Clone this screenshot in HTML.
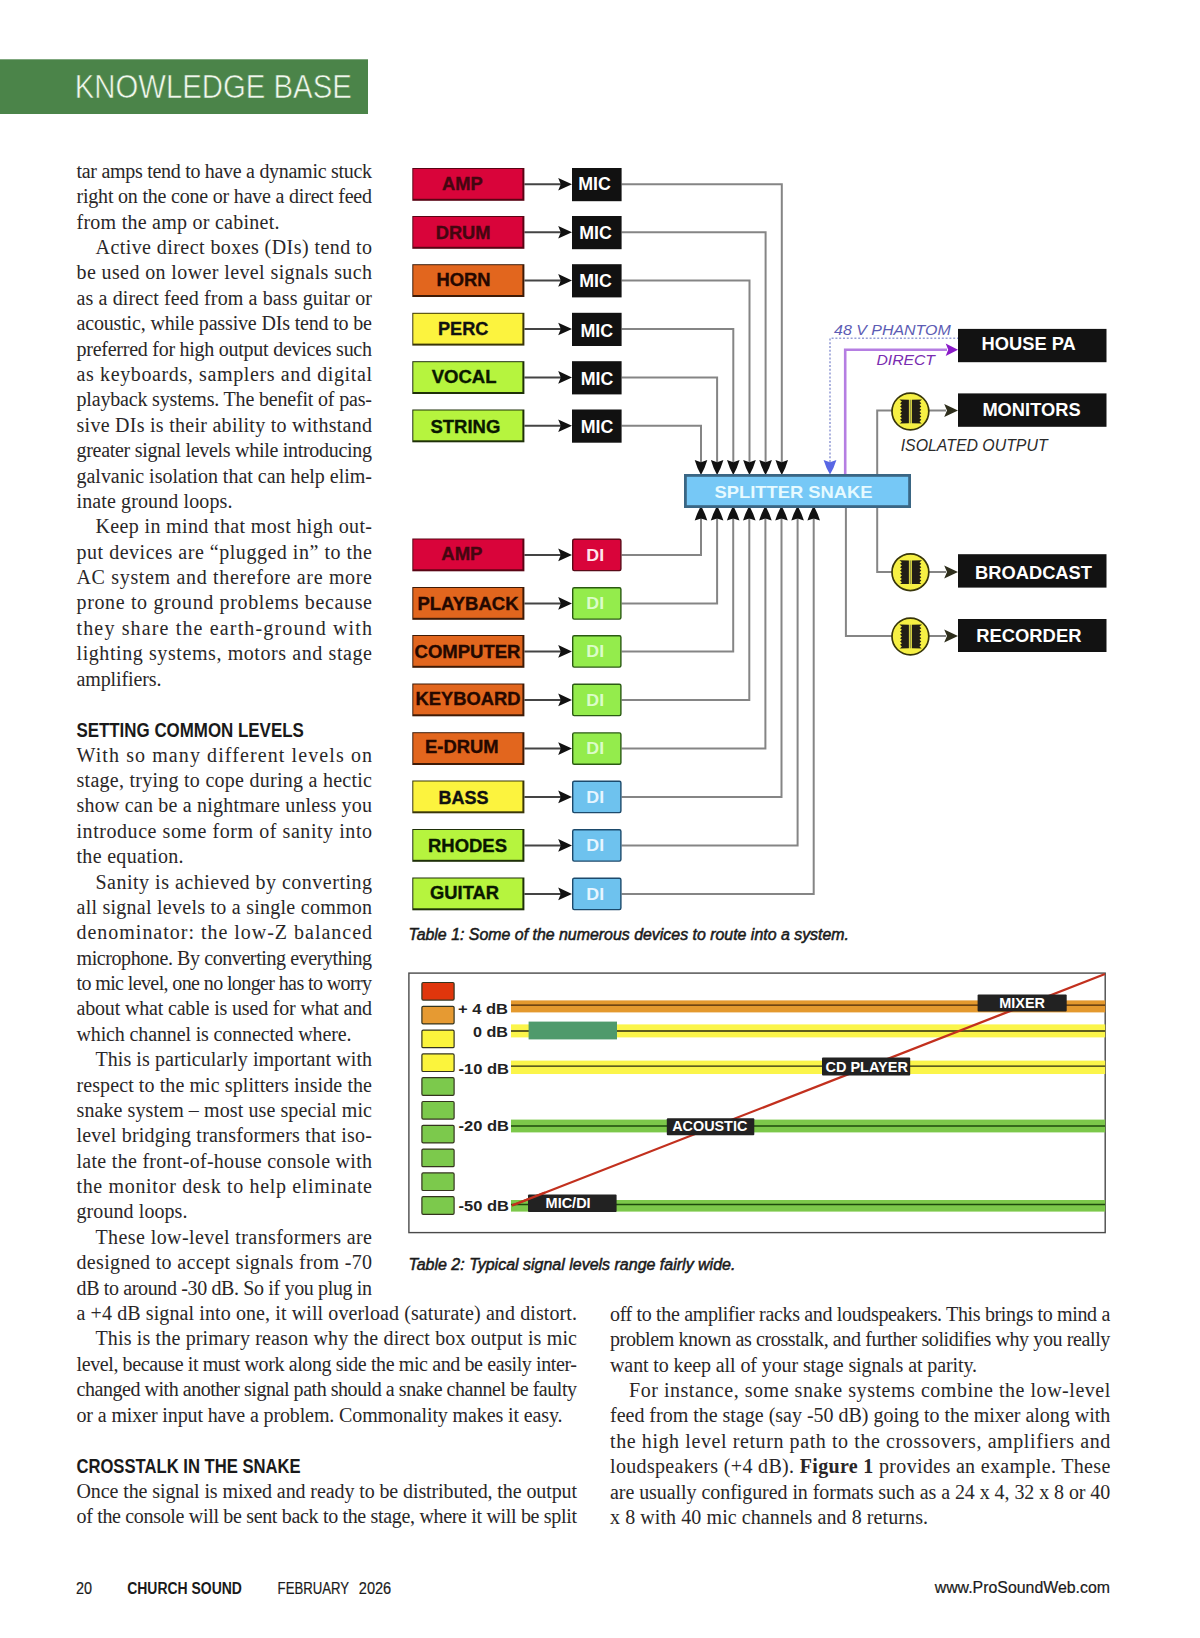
<!DOCTYPE html>
<html><head><meta charset="utf-8"><title>Knowledge Base</title>
<style>html,body{margin:0;padding:0;background:#fff;}body{width:1200px;height:1638px;overflow:hidden;}svg{display:block}text{white-space:pre}</style>
</head><body>
<svg width="1200" height="1638" viewBox="0 0 1200 1638">
<rect width="1200" height="1638" fill="#fff"/>
<rect x="0" y="59.3" width="368" height="54.7" fill="#4b8449"/><text x="74.8" y="97.9" font-family="'Liberation Sans', sans-serif" font-size="33.6" fill="#f0f8ec" textLength="277.0" lengthAdjust="spacingAndGlyphs" stroke="#4b8449" stroke-width="0.6">KNOWLEDGE BASE</text>
<g font-family="'Liberation Serif', serif" font-size="20" fill="#2a2728"><text x="76.5" y="177.9" textLength="295.5" lengthAdjust="spacing">tar amps tend to have a dynamic stuck</text><text x="76.5" y="203.3" textLength="295.5" lengthAdjust="spacing">right on the cone or have a direct feed</text><text x="76.5" y="228.7" textLength="203" lengthAdjust="spacing">from the amp or cabinet.</text><text x="95.5" y="254.0" textLength="276.5" lengthAdjust="spacing">Active direct boxes (DIs) tend to</text><text x="76.5" y="279.4" textLength="295.5" lengthAdjust="spacing">be used on lower level signals such</text><text x="76.5" y="304.8" textLength="295.5" lengthAdjust="spacing">as a direct feed from a bass guitar or</text><text x="76.5" y="330.2" textLength="295.5" lengthAdjust="spacing">acoustic, while passive DIs tend to be</text><text x="76.5" y="355.6" textLength="295.5" lengthAdjust="spacing">preferred for high output devices such</text><text x="76.5" y="380.9" textLength="295.5" lengthAdjust="spacing">as keyboards, samplers and digital</text><text x="76.5" y="406.3" textLength="295.5" lengthAdjust="spacing">playback systems. The benefit of pas-</text><text x="76.5" y="431.7" textLength="295.5" lengthAdjust="spacing">sive DIs is their ability to withstand</text><text x="76.5" y="457.1" textLength="295.5" lengthAdjust="spacing">greater signal levels while introducing</text><text x="76.5" y="482.5" textLength="295.5" lengthAdjust="spacing">galvanic isolation that can help elim-</text><text x="76.5" y="507.8" textLength="156" lengthAdjust="spacing">inate ground loops.</text><text x="95.5" y="533.2" textLength="276.5" lengthAdjust="spacing">Keep in mind that most high out-</text><text x="76.5" y="558.6" textLength="295.5" lengthAdjust="spacing">put devices are “plugged in” to the</text><text x="76.5" y="584.0" textLength="295.5" lengthAdjust="spacing">AC system and therefore are more</text><text x="76.5" y="609.4" textLength="295.5" lengthAdjust="spacing">prone to ground problems because</text><text x="76.5" y="634.7" textLength="295.5" lengthAdjust="spacing">they share the earth-ground with</text><text x="76.5" y="660.1" textLength="295.5" lengthAdjust="spacing">lighting systems, motors and stage</text><text x="76.5" y="685.5" textLength="85" lengthAdjust="spacing">amplifiers.</text><text x="76.5" y="761.6" textLength="295.5" lengthAdjust="spacing">With so many different levels on</text><text x="76.5" y="787.0" textLength="295.5" lengthAdjust="spacing">stage, trying to cope during a hectic</text><text x="76.5" y="812.4" textLength="295.5" lengthAdjust="spacing">show can be a nightmare unless you</text><text x="76.5" y="837.7" textLength="295.5" lengthAdjust="spacing">introduce some form of sanity into</text><text x="76.5" y="863.1" textLength="107" lengthAdjust="spacing">the equation.</text><text x="95.5" y="888.5" textLength="276.5" lengthAdjust="spacing">Sanity is achieved by converting</text><text x="76.5" y="913.9" textLength="295.5" lengthAdjust="spacing">all signal levels to a single common</text><text x="76.5" y="939.3" textLength="295.5" lengthAdjust="spacing">denominator: the low-Z balanced</text><text x="76.5" y="964.6" textLength="295.5" lengthAdjust="spacing">microphone. By converting everything</text><text x="76.5" y="990.0" textLength="295.5" lengthAdjust="spacing">to mic level, one no longer has to worry</text><text x="76.5" y="1015.4" textLength="295.5" lengthAdjust="spacing">about what cable is used for what and</text><text x="76.5" y="1040.8" textLength="275" lengthAdjust="spacing">which channel is connected where.</text><text x="95.5" y="1066.2" textLength="276.5" lengthAdjust="spacing">This is particularly important with</text><text x="76.5" y="1091.5" textLength="295.5" lengthAdjust="spacing">respect to the mic splitters inside the</text><text x="76.5" y="1116.9" textLength="295.5" lengthAdjust="spacing">snake system – most use special mic</text><text x="76.5" y="1142.3" textLength="295.5" lengthAdjust="spacing">level bridging transformers that iso-</text><text x="76.5" y="1167.7" textLength="295.5" lengthAdjust="spacing">late the front-of-house console with</text><text x="76.5" y="1193.1" textLength="295.5" lengthAdjust="spacing">the monitor desk to help eliminate</text><text x="76.5" y="1218.4" textLength="111" lengthAdjust="spacing">ground loops.</text><text x="95.5" y="1243.8" textLength="276.5" lengthAdjust="spacing">These low-level transformers are</text><text x="76.5" y="1269.2" textLength="295.5" lengthAdjust="spacing">designed to accept signals from -70</text><text x="76.5" y="1294.6" textLength="295.5" lengthAdjust="spacing">dB to around -30 dB. So if you plug in</text><text x="76.5" y="1320.0" textLength="500.5" lengthAdjust="spacing">a +4 dB signal into one, it will overload (saturate) and distort.</text><text x="95.5" y="1345.3" textLength="481.5" lengthAdjust="spacing">This is the primary reason why the direct box output is mic</text><text x="76.5" y="1370.7" textLength="500.5" lengthAdjust="spacing">level, because it must work along side the mic and be easily inter-</text><text x="76.5" y="1396.1" textLength="500.5" lengthAdjust="spacing">changed with another signal path should a snake channel be faulty</text><text x="76.5" y="1421.5" textLength="486" lengthAdjust="spacing">or a mixer input have a problem. Commonality makes it easy.</text><text x="76.5" y="1497.6" textLength="500.5" lengthAdjust="spacing">Once the signal is mixed and ready to be distributed, the output</text><text x="76.5" y="1523.0" textLength="500.5" lengthAdjust="spacing">of the console will be sent back to the stage, where it will be split</text><text x="610.0" y="1320.8" textLength="500.3" lengthAdjust="spacing">off to the amplifier racks and loudspeakers. This brings to mind a</text><text x="610.0" y="1346.2" textLength="500.3" lengthAdjust="spacing">problem known as crosstalk, and further solidifies why you really</text><text x="610.0" y="1371.6" textLength="367" lengthAdjust="spacing">want to keep all of your stage signals at parity.</text><text x="629.0" y="1396.9" textLength="481.3" lengthAdjust="spacing">For instance, some snake systems combine the low-level</text><text x="610.0" y="1422.3" textLength="500.3" lengthAdjust="spacing">feed from the stage (say -50 dB) going to the mixer along with</text><text x="610.0" y="1447.7" textLength="500.3" lengthAdjust="spacing">the high level return path to the crossovers, amplifiers and</text><text x="610.0" y="1473.1" textLength="500.3" lengthAdjust="spacing">loudspeakers (+4 dB). <tspan font-weight="bold">Figure 1</tspan> provides an example. These</text><text x="610.0" y="1498.5" textLength="500.3" lengthAdjust="spacing">are usually configured in formats such as a 24 x 4, 32 x 8 or 40</text><text x="610.0" y="1523.8" textLength="318" lengthAdjust="spacing">x 8 with 40 mic channels and 8 returns.</text></g>
<text x="76.4" y="736.6" font-family="'Liberation Sans', sans-serif" font-size="21" font-weight="bold" fill="#1a1a1a" textLength="227.4" lengthAdjust="spacingAndGlyphs">SETTING COMMON LEVELS</text><text x="76.4" y="1472.6" font-family="'Liberation Sans', sans-serif" font-size="21" font-weight="bold" fill="#1a1a1a" textLength="224.3" lengthAdjust="spacingAndGlyphs">CROSSTALK IN THE SNAKE</text>
<text x="408.4" y="940.3" font-family="'Liberation Sans', sans-serif" font-size="17" font-style="italic" fill="#1a1a1a" textLength="440.6" lengthAdjust="spacingAndGlyphs" stroke="#1a1a1a" stroke-width="0.55">Table 1: Some of the numerous devices to route into a system.</text><text x="408.4" y="1269.5" font-family="'Liberation Sans', sans-serif" font-size="17" font-style="italic" fill="#1a1a1a" textLength="327.0" lengthAdjust="spacingAndGlyphs" stroke="#1a1a1a" stroke-width="0.55">Table 2: Typical signal levels range fairly wide.</text>
<text x="76.0" y="1593.6" font-family="'Liberation Sans', sans-serif" font-size="16" fill="#1a1a1a" textLength="16.0" lengthAdjust="spacingAndGlyphs" stroke="#1a1a1a" stroke-width="0.2">20</text><text x="127.2" y="1593.6" font-family="'Liberation Sans', sans-serif" font-size="16" font-weight="bold" fill="#1a1a1a" textLength="114.7" lengthAdjust="spacingAndGlyphs">CHURCH SOUND</text><text x="277.6" y="1593.6" font-family="'Liberation Sans', sans-serif" font-size="16" fill="#1a1a1a" textLength="71.5" lengthAdjust="spacingAndGlyphs" stroke="#1a1a1a" stroke-width="0.2">FEBRUARY</text><text x="358.8" y="1593.6" font-family="'Liberation Sans', sans-serif" font-size="16" fill="#1a1a1a" textLength="32.4" lengthAdjust="spacingAndGlyphs" stroke="#1a1a1a" stroke-width="0.2">2026</text><text x="934.7" y="1593.4" font-family="'Liberation Sans', sans-serif" font-size="16" fill="#1a1a1a" textLength="175.3" lengthAdjust="spacingAndGlyphs" stroke="#1a1a1a" stroke-width="0.2">www.ProSoundWeb.com</text>
<path d="M621.6,184.2 H781.8 V462" fill="none" stroke="#858585" stroke-width="2"/><path d="M621.6,232.2 H765.6 V462" fill="none" stroke="#858585" stroke-width="2"/><path d="M621.6,280.4 H749.5 V462" fill="none" stroke="#858585" stroke-width="2"/><path d="M621.6,329.0 H733.3 V462" fill="none" stroke="#858585" stroke-width="2"/><path d="M621.6,377.4 H717.1 V462" fill="none" stroke="#858585" stroke-width="2"/><path d="M621.6,425.7 H701.0 V462" fill="none" stroke="#858585" stroke-width="2"/><path d="M621.6,554.9 H701.0 V518" fill="none" stroke="#858585" stroke-width="2"/><path d="M621.6,603.4 H717.1 V518" fill="none" stroke="#858585" stroke-width="2"/><path d="M621.6,651.4 H733.2 V518" fill="none" stroke="#858585" stroke-width="2"/><path d="M621.6,699.9 H749.3 V518" fill="none" stroke="#858585" stroke-width="2"/><path d="M621.6,748.6 H765.4 V518" fill="none" stroke="#858585" stroke-width="2"/><path d="M621.6,796.9 H781.5 V518" fill="none" stroke="#858585" stroke-width="2"/><path d="M621.6,845.4 H797.6 V518" fill="none" stroke="#858585" stroke-width="2"/><path d="M621.6,893.9 H813.7 V518" fill="none" stroke="#858585" stroke-width="2"/><path d="M877.2,474 V410.5 H892" fill="none" stroke="#858585" stroke-width="2"/><path d="M877.2,506 V572 H892" fill="none" stroke="#858585" stroke-width="2"/><path d="M845.9,506 V636 H892" fill="none" stroke="#858585" stroke-width="2"/><path d="M929,410.5 H946" stroke="#858585" stroke-width="2"/><path d="M958.0,410.5 L944.2,404.0 L947.0,410.5 L944.2,417.0 Z" fill="#2e2e1c"/><path d="M929,572 H946" stroke="#858585" stroke-width="2"/><path d="M958.0,572.0 L944.2,565.5 L947.0,572.0 L944.2,578.5 Z" fill="#2e2e1c"/><path d="M929,636 H946" stroke="#858585" stroke-width="2"/><path d="M958.0,636.0 L944.2,629.5 L947.0,636.0 L944.2,642.5 Z" fill="#2e2e1c"/><path d="M830,462 V338.2 H958" fill="none" stroke="#98a0d8" stroke-width="1.6" stroke-dasharray="2,1.8"/><path d="M830.0,474.5 Q826.0,468.0 823.6,460.0 L830.0,462.2 L836.4,460.0 Q834.0,468.0 830.0,474.5 Z" fill="#5866e4"/><path d="M845.2,474 V349.7 H947" fill="none" stroke="#b57ee2" stroke-width="2.6"/><path d="M958.0,349.7 L945.7,343.5 L948.2,349.7 L945.7,355.9 Z" fill="#8a1ac8"/><text x="834.0" y="334.5" font-family="'Liberation Sans', sans-serif" font-size="15.5" font-style="italic" fill="#5c5cb4" textLength="116.8" lengthAdjust="spacingAndGlyphs">48 V PHANTOM</text><text x="876.4" y="365.0" font-family="'Liberation Sans', sans-serif" font-size="15.5" font-style="italic" fill="#7a2cb0" textLength="58.6" lengthAdjust="spacingAndGlyphs">DIRECT</text><text x="900.7" y="450.8" font-family="'Liberation Sans', sans-serif" font-size="16" font-style="italic" fill="#2a2a2a" textLength="146.9" lengthAdjust="spacingAndGlyphs">ISOLATED OUTPUT</text><path d="M524.4,184.2 H562" stroke="#444" stroke-width="2"/><path d="M572.0,184.2 L558.2,177.9 L560.8,184.2 L558.2,190.5 Z" fill="#111"/><rect x="412.3" y="168.0" width="112.1" height="32.8" fill="#5a0414"/><rect x="413.3" y="169.0" width="109.1" height="29.8" fill="#d9043a"/><text x="442.0" y="190.0" font-family="'Liberation Sans', sans-serif" font-size="17.6" font-weight="bold" fill="#440610" textLength="40.7" lengthAdjust="spacingAndGlyphs" stroke="#440610" stroke-width="0.35">AMP</text><rect x="572" y="168" width="49.6" height="33.2" fill="#111"/><text x="578.2" y="189.5" font-family="'Liberation Sans', sans-serif" font-size="18" font-weight="bold" fill="#fff" textLength="32.6" lengthAdjust="spacingAndGlyphs">MIC</text><path d="M524.4,232.2 H562" stroke="#444" stroke-width="2"/><path d="M572.0,232.2 L558.2,225.9 L560.8,232.2 L558.2,238.5 Z" fill="#111"/><rect x="412.3" y="216.0" width="112.1" height="32.8" fill="#5a0414"/><rect x="413.3" y="217.0" width="109.1" height="29.8" fill="#d9043a"/><text x="435.7" y="238.5" font-family="'Liberation Sans', sans-serif" font-size="17.6" font-weight="bold" fill="#440610" textLength="54.8" lengthAdjust="spacingAndGlyphs" stroke="#440610" stroke-width="0.35">DRUM</text><rect x="572" y="216" width="49.6" height="33.2" fill="#111"/><text x="579.3" y="239.1" font-family="'Liberation Sans', sans-serif" font-size="18" font-weight="bold" fill="#fff" textLength="32.6" lengthAdjust="spacingAndGlyphs">MIC</text><path d="M524.4,280.4 H562" stroke="#444" stroke-width="2"/><path d="M572.0,280.4 L558.2,274.1 L560.8,280.4 L558.2,286.7 Z" fill="#111"/><rect x="412.3" y="264.2" width="112.1" height="32.8" fill="#3e1a06"/><rect x="413.3" y="265.2" width="109.1" height="29.8" fill="#e2661e"/><text x="436.5" y="286.2" font-family="'Liberation Sans', sans-serif" font-size="17.6" font-weight="bold" fill="#240800" textLength="54.0" lengthAdjust="spacingAndGlyphs" stroke="#240800" stroke-width="0.35">HORN</text><rect x="572" y="264.2" width="49.6" height="33.2" fill="#111"/><text x="579.3" y="286.5" font-family="'Liberation Sans', sans-serif" font-size="18" font-weight="bold" fill="#fff" textLength="32.6" lengthAdjust="spacingAndGlyphs">MIC</text><path d="M524.4,329.0 H562" stroke="#444" stroke-width="2"/><path d="M572.0,329.0 L558.2,322.7 L560.8,329.0 L558.2,335.3 Z" fill="#111"/><rect x="412.3" y="312.8" width="112.1" height="32.8" fill="#3a3608"/><rect x="413.3" y="313.8" width="109.1" height="29.8" fill="#fcf33e"/><text x="438.0" y="334.5" font-family="'Liberation Sans', sans-serif" font-size="17.6" font-weight="bold" fill="#111" textLength="50.3" lengthAdjust="spacingAndGlyphs" stroke="#111" stroke-width="0.35">PERC</text><rect x="572" y="312.8" width="49.6" height="33.2" fill="#111"/><text x="580.5" y="337.4" font-family="'Liberation Sans', sans-serif" font-size="18" font-weight="bold" fill="#fff" textLength="32.6" lengthAdjust="spacingAndGlyphs">MIC</text><path d="M524.4,377.4 H562" stroke="#444" stroke-width="2"/><path d="M572.0,377.4 L558.2,371.1 L560.8,377.4 L558.2,383.7 Z" fill="#111"/><rect x="412.3" y="361.2" width="112.1" height="32.8" fill="#1e3008"/><rect x="413.3" y="362.2" width="109.1" height="29.8" fill="#b6f43e"/><text x="431.7" y="383.0" font-family="'Liberation Sans', sans-serif" font-size="17.6" font-weight="bold" fill="#0a1800" textLength="64.8" lengthAdjust="spacingAndGlyphs" stroke="#0a1800" stroke-width="0.35">VOCAL</text><rect x="572" y="361.2" width="49.6" height="33.2" fill="#111"/><text x="580.7" y="384.7" font-family="'Liberation Sans', sans-serif" font-size="18" font-weight="bold" fill="#fff" textLength="32.6" lengthAdjust="spacingAndGlyphs">MIC</text><path d="M524.4,425.7 H562" stroke="#444" stroke-width="2"/><path d="M572.0,425.7 L558.2,419.4 L560.8,425.7 L558.2,432.0 Z" fill="#111"/><rect x="412.3" y="409.5" width="112.1" height="32.8" fill="#1e3008"/><rect x="413.3" y="410.5" width="109.1" height="29.8" fill="#b6f43e"/><text x="430.5" y="433.0" font-family="'Liberation Sans', sans-serif" font-size="17.6" font-weight="bold" fill="#0a1800" textLength="69.8" lengthAdjust="spacingAndGlyphs" stroke="#0a1800" stroke-width="0.35">STRING</text><rect x="572" y="409.5" width="49.6" height="33.2" fill="#111"/><text x="580.7" y="432.8" font-family="'Liberation Sans', sans-serif" font-size="18" font-weight="bold" fill="#fff" textLength="32.6" lengthAdjust="spacingAndGlyphs">MIC</text><path d="M524.4,554.9 H562" stroke="#444" stroke-width="2"/><path d="M572.0,554.9 L558.2,548.6 L560.8,554.9 L558.2,561.2 Z" fill="#111"/><rect x="412.3" y="538.5" width="112.1" height="32.8" fill="#5a0414"/><rect x="413.3" y="539.5" width="109.1" height="29.8" fill="#d9043a"/><text x="441.3" y="559.8" font-family="'Liberation Sans', sans-serif" font-size="17.6" font-weight="bold" fill="#440610" textLength="41.2" lengthAdjust="spacingAndGlyphs" stroke="#440610" stroke-width="0.35">AMP</text><rect x="572.7" y="539.2" width="48.2" height="31.4" rx="1.5" fill="#d9043a" stroke="#5a0a18" stroke-width="1.4"/><text x="586.3" y="560.5" font-family="'Liberation Sans', sans-serif" font-size="17.2" font-weight="bold" fill="#ffe4ec" textLength="17.8" lengthAdjust="spacingAndGlyphs">DI</text><path d="M524.4,603.4 H562" stroke="#444" stroke-width="2"/><path d="M572.0,603.4 L558.2,597.1 L560.8,603.4 L558.2,609.7 Z" fill="#111"/><rect x="412.3" y="587.0" width="112.1" height="32.8" fill="#3e1a06"/><rect x="413.3" y="588.0" width="109.1" height="29.8" fill="#e2661e"/><text x="417.5" y="609.5" font-family="'Liberation Sans', sans-serif" font-size="17.6" font-weight="bold" fill="#240800" textLength="101.0" lengthAdjust="spacingAndGlyphs" stroke="#240800" stroke-width="0.35">PLAYBACK</text><rect x="572.7" y="587.7" width="48.2" height="31.4" rx="1.5" fill="#94ec4c" stroke="#2a5a12" stroke-width="1.4"/><text x="586.3" y="609.0" font-family="'Liberation Sans', sans-serif" font-size="17.2" font-weight="bold" fill="#dcfcc8" textLength="17.8" lengthAdjust="spacingAndGlyphs">DI</text><path d="M524.4,651.4 H562" stroke="#444" stroke-width="2"/><path d="M572.0,651.4 L558.2,645.1 L560.8,651.4 L558.2,657.7 Z" fill="#111"/><rect x="412.3" y="635.0" width="112.1" height="32.8" fill="#3e1a06"/><rect x="413.3" y="636.0" width="109.1" height="29.8" fill="#e2661e"/><text x="414.5" y="657.5" font-family="'Liberation Sans', sans-serif" font-size="17.6" font-weight="bold" fill="#240800" textLength="106.0" lengthAdjust="spacingAndGlyphs" stroke="#240800" stroke-width="0.35">COMPUTER</text><rect x="572.7" y="635.7" width="48.2" height="31.4" rx="1.5" fill="#94ec4c" stroke="#2a5a12" stroke-width="1.4"/><text x="586.3" y="657.0" font-family="'Liberation Sans', sans-serif" font-size="17.2" font-weight="bold" fill="#dcfcc8" textLength="17.8" lengthAdjust="spacingAndGlyphs">DI</text><path d="M524.4,699.9 H562" stroke="#444" stroke-width="2"/><path d="M572.0,699.9 L558.2,693.6 L560.8,699.9 L558.2,706.2 Z" fill="#111"/><rect x="412.3" y="683.5" width="112.1" height="32.8" fill="#3e1a06"/><rect x="413.3" y="684.5" width="109.1" height="29.8" fill="#e2661e"/><text x="415.5" y="704.8" font-family="'Liberation Sans', sans-serif" font-size="17.6" font-weight="bold" fill="#240800" textLength="105.0" lengthAdjust="spacingAndGlyphs" stroke="#240800" stroke-width="0.35">KEYBOARD</text><rect x="572.7" y="684.2" width="48.2" height="31.4" rx="1.5" fill="#94ec4c" stroke="#2a5a12" stroke-width="1.4"/><text x="586.3" y="705.5" font-family="'Liberation Sans', sans-serif" font-size="17.2" font-weight="bold" fill="#dcfcc8" textLength="17.8" lengthAdjust="spacingAndGlyphs">DI</text><path d="M524.4,748.6 H562" stroke="#444" stroke-width="2"/><path d="M572.0,748.6 L558.2,742.3 L560.8,748.6 L558.2,754.9 Z" fill="#111"/><rect x="412.3" y="732.2" width="112.1" height="32.8" fill="#3e1a06"/><rect x="413.3" y="733.2" width="109.1" height="29.8" fill="#e2661e"/><text x="425.0" y="753.0" font-family="'Liberation Sans', sans-serif" font-size="17.6" font-weight="bold" fill="#240800" textLength="73.5" lengthAdjust="spacingAndGlyphs" stroke="#240800" stroke-width="0.35">E-DRUM</text><rect x="572.7" y="732.9" width="48.2" height="31.4" rx="1.5" fill="#94ec4c" stroke="#2a5a12" stroke-width="1.4"/><text x="586.3" y="754.2" font-family="'Liberation Sans', sans-serif" font-size="17.2" font-weight="bold" fill="#dcfcc8" textLength="17.8" lengthAdjust="spacingAndGlyphs">DI</text><path d="M524.4,796.9 H562" stroke="#444" stroke-width="2"/><path d="M572.0,796.9 L558.2,790.6 L560.8,796.9 L558.2,803.2 Z" fill="#111"/><rect x="412.3" y="780.5" width="112.1" height="32.8" fill="#3a3608"/><rect x="413.3" y="781.5" width="109.1" height="29.8" fill="#fcf33e"/><text x="438.5" y="803.5" font-family="'Liberation Sans', sans-serif" font-size="17.6" font-weight="bold" fill="#111" textLength="50.0" lengthAdjust="spacingAndGlyphs" stroke="#111" stroke-width="0.35">BASS</text><rect x="572.7" y="781.2" width="48.2" height="31.4" rx="1.5" fill="#6ec2ee" stroke="#1c4a6c" stroke-width="1.4"/><text x="586.3" y="802.5" font-family="'Liberation Sans', sans-serif" font-size="17.2" font-weight="bold" fill="#e6f5ff" textLength="17.8" lengthAdjust="spacingAndGlyphs">DI</text><path d="M524.4,845.4 H562" stroke="#444" stroke-width="2"/><path d="M572.0,845.4 L558.2,839.1 L560.8,845.4 L558.2,851.7 Z" fill="#111"/><rect x="412.3" y="829.0" width="112.1" height="32.8" fill="#1e3008"/><rect x="413.3" y="830.0" width="109.1" height="29.8" fill="#b6f43e"/><text x="428.0" y="852.0" font-family="'Liberation Sans', sans-serif" font-size="17.6" font-weight="bold" fill="#0a1800" textLength="79.0" lengthAdjust="spacingAndGlyphs" stroke="#0a1800" stroke-width="0.35">RHODES</text><rect x="572.7" y="829.7" width="48.2" height="31.4" rx="1.5" fill="#6ec2ee" stroke="#1c4a6c" stroke-width="1.4"/><text x="586.3" y="851.0" font-family="'Liberation Sans', sans-serif" font-size="17.2" font-weight="bold" fill="#e6f5ff" textLength="17.8" lengthAdjust="spacingAndGlyphs">DI</text><path d="M524.4,893.9 H562" stroke="#444" stroke-width="2"/><path d="M572.0,893.9 L558.2,887.6 L560.8,893.9 L558.2,900.2 Z" fill="#111"/><rect x="412.3" y="877.5" width="112.1" height="32.8" fill="#1e3008"/><rect x="413.3" y="878.5" width="109.1" height="29.8" fill="#b6f43e"/><text x="430.0" y="899.0" font-family="'Liberation Sans', sans-serif" font-size="17.6" font-weight="bold" fill="#0a1800" textLength="69.0" lengthAdjust="spacingAndGlyphs" stroke="#0a1800" stroke-width="0.35">GUITAR</text><rect x="572.7" y="878.2" width="48.2" height="31.4" rx="1.5" fill="#6ec2ee" stroke="#1c4a6c" stroke-width="1.4"/><text x="586.3" y="899.5" font-family="'Liberation Sans', sans-serif" font-size="17.2" font-weight="bold" fill="#e6f5ff" textLength="17.8" lengthAdjust="spacingAndGlyphs">DI</text><path d="M701.0,475.0 Q697.1,468.2 694.7,460.0 L701.0,462.2 L707.3,460.0 Q704.9,468.2 701.0,475.0 Z" fill="#111"/><path d="M717.1,475.0 Q713.2,468.2 710.9,460.0 L717.1,462.2 L723.4,460.0 Q721.1,468.2 717.1,475.0 Z" fill="#111"/><path d="M733.3,475.0 Q729.4,468.2 727.0,460.0 L733.3,462.2 L739.6,460.0 Q737.2,468.2 733.3,475.0 Z" fill="#111"/><path d="M749.5,475.0 Q745.5,468.2 743.2,460.0 L749.5,462.2 L755.8,460.0 Q753.4,468.2 749.5,475.0 Z" fill="#111"/><path d="M765.6,475.0 Q761.7,468.2 759.3,460.0 L765.6,462.2 L771.9,460.0 Q769.5,468.2 765.6,475.0 Z" fill="#111"/><path d="M781.8,475.0 Q777.8,468.2 775.5,460.0 L781.8,462.2 L788.0,460.0 Q785.7,468.2 781.8,475.0 Z" fill="#111"/><path d="M701.0,506.0 Q697.1,512.6 694.7,520.6 L701.0,518.4 L707.3,520.6 Q704.9,512.6 701.0,506.0 Z" fill="#111"/><path d="M717.1,506.0 Q713.2,512.6 710.8,520.6 L717.1,518.4 L723.4,520.6 Q721.0,512.6 717.1,506.0 Z" fill="#111"/><path d="M733.2,506.0 Q729.3,512.6 726.9,520.6 L733.2,518.4 L739.5,520.6 Q737.1,512.6 733.2,506.0 Z" fill="#111"/><path d="M749.3,506.0 Q745.4,512.6 743.0,520.6 L749.3,518.4 L755.6,520.6 Q753.2,512.6 749.3,506.0 Z" fill="#111"/><path d="M765.4,506.0 Q761.5,512.6 759.1,520.6 L765.4,518.4 L771.7,520.6 Q769.3,512.6 765.4,506.0 Z" fill="#111"/><path d="M781.5,506.0 Q777.6,512.6 775.2,520.6 L781.5,518.4 L787.8,520.6 Q785.4,512.6 781.5,506.0 Z" fill="#111"/><path d="M797.6,506.0 Q793.7,512.6 791.3,520.6 L797.6,518.4 L803.9,520.6 Q801.5,512.6 797.6,506.0 Z" fill="#111"/><path d="M813.7,506.0 Q809.8,512.6 807.4,520.6 L813.7,518.4 L820.0,520.6 Q817.6,512.6 813.7,506.0 Z" fill="#111"/><rect x="685.4" y="475.4" width="224.2" height="31.2" fill="#76c8f6" stroke="#3a6684" stroke-width="2.8"/><text x="714.5" y="497.8" font-family="'Liberation Sans', sans-serif" font-size="17" font-weight="bold" fill="#e6faff" textLength="158.0" lengthAdjust="spacingAndGlyphs">SPLITTER SNAKE</text><rect x="958" y="328.9" width="148.5" height="33.3" fill="#121212"/><text x="981.5" y="349.5" font-family="'Liberation Sans', sans-serif" font-size="18.5" font-weight="bold" fill="#fff" textLength="94.3" lengthAdjust="spacingAndGlyphs">HOUSE PA</text><rect x="958" y="393.4" width="148.5" height="33.4" fill="#121212"/><text x="982.4" y="416.0" font-family="'Liberation Sans', sans-serif" font-size="18.5" font-weight="bold" fill="#fff" textLength="98.2" lengthAdjust="spacingAndGlyphs">MONITORS</text><rect x="958" y="554.2" width="148.5" height="33.4" fill="#121212"/><text x="975.0" y="578.7" font-family="'Liberation Sans', sans-serif" font-size="18.5" font-weight="bold" fill="#fff" textLength="117.0" lengthAdjust="spacingAndGlyphs">BROADCAST</text><rect x="958" y="619" width="148.5" height="33.0" fill="#121212"/><text x="976.3" y="641.7" font-family="'Liberation Sans', sans-serif" font-size="18.5" font-weight="bold" fill="#fff" textLength="105.1" lengthAdjust="spacingAndGlyphs">RECORDER</text><circle cx="910.4" cy="411.5" r="18.4" fill="#f6f044" stroke="#38360a" stroke-width="1.7"/><path d="M908.90,399.80 L899.40,399.60 L901.90,401.47 L900.10,403.14 L901.90,404.81 L900.10,406.49 L901.90,408.16 L900.10,409.83 L901.90,411.50 L900.10,413.17 L901.90,414.84 L900.10,416.51 L901.90,418.19 L900.10,419.86 L901.90,421.53 L900.10,423.20 L899.40,423.40 L908.90,423.20 Z" fill="#221e16"/><path d="M911.90,399.80 L922.00,399.60 L919.50,401.47 L921.30,403.14 L919.50,404.81 L921.30,406.49 L919.50,408.16 L921.30,409.83 L919.50,411.50 L921.30,413.17 L919.50,414.84 L921.30,416.51 L919.50,418.19 L921.30,419.86 L919.50,421.53 L921.30,423.20 L922.00,423.40 L911.90,423.20 Z" fill="#221e16"/><path d="M910.4,399.7 V423.3" stroke="#9c9c44" stroke-width="1.6"/><circle cx="910.4" cy="572.2" r="18.4" fill="#f6f044" stroke="#38360a" stroke-width="1.7"/><path d="M908.90,560.50 L899.40,560.30 L901.90,562.17 L900.10,563.84 L901.90,565.51 L900.10,567.19 L901.90,568.86 L900.10,570.53 L901.90,572.20 L900.10,573.87 L901.90,575.54 L900.10,577.21 L901.90,578.89 L900.10,580.56 L901.90,582.23 L900.10,583.90 L899.40,584.10 L908.90,583.90 Z" fill="#221e16"/><path d="M911.90,560.50 L922.00,560.30 L919.50,562.17 L921.30,563.84 L919.50,565.51 L921.30,567.19 L919.50,568.86 L921.30,570.53 L919.50,572.20 L921.30,573.87 L919.50,575.54 L921.30,577.21 L919.50,578.89 L921.30,580.56 L919.50,582.23 L921.30,583.90 L922.00,584.10 L911.90,583.90 Z" fill="#221e16"/><path d="M910.4,560.4 V584.0" stroke="#9c9c44" stroke-width="1.6"/><circle cx="910.4" cy="636.5" r="18.4" fill="#f6f044" stroke="#38360a" stroke-width="1.7"/><path d="M908.90,624.80 L899.40,624.60 L901.90,626.47 L900.10,628.14 L901.90,629.81 L900.10,631.49 L901.90,633.16 L900.10,634.83 L901.90,636.50 L900.10,638.17 L901.90,639.84 L900.10,641.51 L901.90,643.19 L900.10,644.86 L901.90,646.53 L900.10,648.20 L899.40,648.40 L908.90,648.20 Z" fill="#221e16"/><path d="M911.90,624.80 L922.00,624.60 L919.50,626.47 L921.30,628.14 L919.50,629.81 L921.30,631.49 L919.50,633.16 L921.30,634.83 L919.50,636.50 L921.30,638.17 L919.50,639.84 L921.30,641.51 L919.50,643.19 L921.30,644.86 L919.50,646.53 L921.30,648.20 L922.00,648.40 L911.90,648.20 Z" fill="#221e16"/><path d="M910.4,624.7 V648.3" stroke="#9c9c44" stroke-width="1.6"/>
<rect x="408.9" y="973.1" width="696.3" height="259.5" fill="#fff" stroke="#4a4a4a" stroke-width="1.4"/><rect x="421.9" y="982.5" width="32.2" height="17.6" rx="1.3" fill="#e0360c" stroke="#34341e" stroke-width="1.2"/><rect x="421.9" y="1006.3" width="32.2" height="17.6" rx="1.3" fill="#e69a32" stroke="#34341e" stroke-width="1.2"/><rect x="421.9" y="1030.1" width="32.2" height="17.6" rx="1.3" fill="#fbf43c" stroke="#34341e" stroke-width="1.2"/><rect x="421.9" y="1053.9" width="32.2" height="17.6" rx="1.3" fill="#fbf43c" stroke="#34341e" stroke-width="1.2"/><rect x="421.9" y="1077.7" width="32.2" height="17.6" rx="1.3" fill="#7cc94c" stroke="#34341e" stroke-width="1.2"/><rect x="421.9" y="1101.5" width="32.2" height="17.6" rx="1.3" fill="#7cc94c" stroke="#34341e" stroke-width="1.2"/><rect x="421.9" y="1125.3" width="32.2" height="17.6" rx="1.3" fill="#7cc94c" stroke="#34341e" stroke-width="1.2"/><rect x="421.9" y="1149.1" width="32.2" height="17.6" rx="1.3" fill="#7cc94c" stroke="#34341e" stroke-width="1.2"/><rect x="421.9" y="1172.9" width="32.2" height="17.6" rx="1.3" fill="#7cc94c" stroke="#34341e" stroke-width="1.2"/><rect x="421.9" y="1196.7" width="32.2" height="17.6" rx="1.3" fill="#7cc94c" stroke="#34341e" stroke-width="1.2"/><rect x="511" y="1000.4" width="594.2" height="12.0" fill="#e4992e"/><path d="M511,1005.2 H1105" stroke="#4a2a08" stroke-width="1.3"/><rect x="511" y="1024.4" width="594.2" height="13.0" fill="#fbf54a"/><path d="M511,1031 H1105" stroke="#2a2a10" stroke-width="1.3"/><rect x="511" y="1060.6" width="594.2" height="13.4" fill="#fbf54a"/><path d="M511,1066.2 H1105" stroke="#2a2a10" stroke-width="1.3"/><rect x="511" y="1119.6" width="594.2" height="12.8" fill="#7cc84a"/><path d="M511,1126 H1105" stroke="#1e4a0c" stroke-width="1.3"/><rect x="511" y="1200" width="594.2" height="11.6" fill="#7cc84a"/><path d="M511,1204.5 H1105" stroke="#1e4a0c" stroke-width="1.3"/><rect x="528.6" y="1021.6" width="88.4" height="17.8" fill="#4f9a6c"/><path d="M512,1205.5 L1105,974" stroke="#c2301e" stroke-width="2.3"/><rect x="977.6" y="994.5" width="89.1" height="17.0" rx="1" fill="#222"/><text x="999.2" y="1008.4" font-family="'Liberation Sans', sans-serif" font-size="14.5" font-weight="bold" fill="#fff" textLength="45.8" lengthAdjust="spacingAndGlyphs">MIXER</text><rect x="822" y="1057.5" width="88.2" height="18.0" rx="1" fill="#222"/><text x="825.5" y="1072.0" font-family="'Liberation Sans', sans-serif" font-size="14.5" font-weight="bold" fill="#fff" textLength="82.4" lengthAdjust="spacingAndGlyphs">CD PLAYER</text><rect x="666.8" y="1118.2" width="87.5" height="17.0" rx="1" fill="#222"/><text x="672.2" y="1131.0" font-family="'Liberation Sans', sans-serif" font-size="14.5" font-weight="bold" fill="#fff" textLength="75.1" lengthAdjust="spacingAndGlyphs">ACOUSTIC</text><rect x="528" y="1194.4" width="88.6" height="17.6" rx="1" fill="#222"/><text x="545.6" y="1207.6" font-family="'Liberation Sans', sans-serif" font-size="14.5" font-weight="bold" fill="#fff" textLength="45.0" lengthAdjust="spacingAndGlyphs">MIC/DI</text><path d="M512,1205.5 L545,1192.6" stroke="#c2301e" stroke-width="2.3"/><text x="458.0" y="1013.6" font-family="'Liberation Sans', sans-serif" font-size="14.3" font-weight="bold" fill="#222" textLength="50.0" lengthAdjust="spacingAndGlyphs">+ 4 dB</text><text x="473.0" y="1037.0" font-family="'Liberation Sans', sans-serif" font-size="14.3" font-weight="bold" fill="#222" textLength="35.0" lengthAdjust="spacingAndGlyphs">0 dB</text><text x="458.6" y="1074.0" font-family="'Liberation Sans', sans-serif" font-size="14.3" font-weight="bold" fill="#222" textLength="50.4" lengthAdjust="spacingAndGlyphs">-10 dB</text><text x="458.6" y="1131.4" font-family="'Liberation Sans', sans-serif" font-size="14.3" font-weight="bold" fill="#222" textLength="50.4" lengthAdjust="spacingAndGlyphs">-20 dB</text><text x="458.6" y="1211.4" font-family="'Liberation Sans', sans-serif" font-size="14.3" font-weight="bold" fill="#222" textLength="50.4" lengthAdjust="spacingAndGlyphs">-50 dB</text>
</svg>
</body></html>
